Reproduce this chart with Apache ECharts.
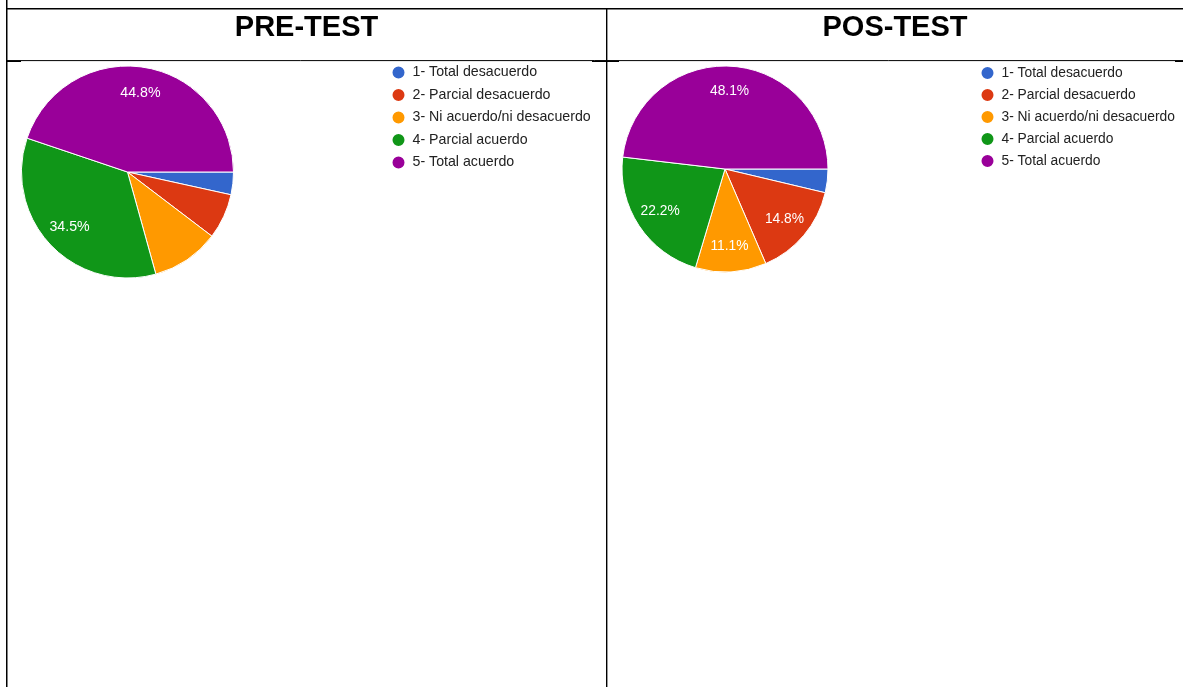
<!DOCTYPE html>
<html>
<head>
<meta charset="utf-8">
<title>PRE-TEST / POS-TEST</title>
<script src="https://cdn.jsdelivr.net/npm/echarts@6/dist/echarts.min.js"></script>
<style>
  html, body { margin: 0; padding: 0; background: #ffffff; }
  #chart { width: 1183px; height: 687px; }
</style>
</head>
<body>
<div id="chart"></div>
<script>
// Survey answer categories (Likert scale)
const categories = [
  '1- Total desacuerdo',
  '2- Parcial desacuerdo',
  '3- Ni acuerdo/ni desacuerdo',
  '4- Parcial acuerdo',
  '5- Total acuerdo'
];
// Number of answers per category
const preTestCounts = [1, 2, 3, 10, 13];
const posTestCounts = [1, 4, 3, 6, 13];
// Panel headings
const panelTitles = ['PRE-TEST', 'POS-TEST'];

const sliceColors = ['#3366cc', '#dc3912', '#ff9900', '#109618', '#990099'];
const FONT = 'Arial, "Liberation Sans", sans-serif';
// Slices below this share get no inner label
const LABEL_MIN_PERCENT = 11;

const panels = [
  { counts: preTestCounts, center: [127.5, 172], radius: 106, font: 14.2,
    legendLeft: 390.5, legendTop: 64.5, legendGap: 6.5, titleX: 306.5 },
  { counts: posTestCounts, center: [725, 169], radius: 103, font: 13.8,
    legendLeft: 979.5, legendTop: 65, legendGap: 6, titleX: 895 }
];

const chart = echarts.init(document.getElementById('chart'), null, { renderer: 'canvas' });

function sliceData(p) {
  return categories.map(function (name, i) {
    return { name: name, value: p.counts[i], itemStyle: { color: sliceColors[i] } };
  });
}

// Filled pie, no labels
function pieSeries(p, idx) {
  return {
    type: 'pie',
    name: panelTitles[idx],
    center: p.center,
    radius: [0, p.radius],
    startAngle: 0,
    clockwise: true,
    silent: true,
    animation: false,
    itemStyle: { borderColor: '#ffffff', borderWidth: 1 },
    emphasis: { disabled: true },
    label: { show: false },
    labelLine: { show: false },
    data: sliceData(p)
  };
}

// Transparent ring over the pie that carries the percentage labels,
// so 'inside' labels sit about three quarters of the way out
function labelRingSeries(p, idx) {
  return {
    type: 'pie',
    name: panelTitles[idx] + ' %',
    center: p.center,
    radius: [p.radius * 0.45, p.radius],
    startAngle: 0,
    clockwise: true,
    silent: true,
    animation: false,
    avoidLabelOverlap: false,
    itemStyle: { color: 'rgba(0,0,0,0)', borderWidth: 0 },
    emphasis: { disabled: true },
    label: {
      show: true,
      position: 'inside',
      color: '#ffffff',
      fontFamily: FONT,
      fontSize: p.font,
      formatter: function (prm) {
        return prm.percent >= LABEL_MIN_PERCENT ? prm.percent.toFixed(1) + '%' : '';
      }
    },
    labelLine: { show: false },
    data: p.counts.map(function (v, i) {
      return { name: categories[i], value: v };
    })
  };
}

function legendFor(p, idx) {
  return {
    orient: 'vertical',
    left: p.legendLeft,
    top: p.legendTop,
    padding: 0,
    icon: 'circle',
    itemWidth: 14,
    itemHeight: 14,
    itemGap: p.legendGap,
    selectedMode: false,
    data: categories.map(function (name, i) {
      return { name: name, itemStyle: { color: sliceColors[i] } };
    }),
    textStyle: {
      color: '#222222',
      fontFamily: FONT,
      fontSize: p.font,
      padding: [0, 0, 0, 2]
    }
  };
}

// Table frame around the two panels
const black = '#000000';
function hLine(x1, x2, y, w) {
  return { type: 'line', silent: true, shape: { x1: x1, y1: y, x2: x2, y2: y },
           style: { stroke: black, lineWidth: w } };
}
function vLine(x, y1, y2, w) {
  return { type: 'line', silent: true, shape: { x1: x, y1: y1, x2: x, y2: y2 },
           style: { stroke: black, lineWidth: w } };
}

const frame = [
  vLine(6.75, 0, 687, 1.5),
  hLine(6, 1183, 8.8, 1.5),
  vLine(606.7, 8, 687, 1.4),
  hLine(6, 1183, 60.6, 1),
  hLine(7, 21, 61.3, 1.4),
  hLine(592, 619, 61.3, 1.4),
  hLine(1175, 1183, 61.3, 1.4)
];

const headings = panels.map(function (p, i) {
  return {
    type: 'text',
    silent: true,
    x: p.titleX,
    y: 27.5,
    style: {
      text: panelTitles[i],
      fill: '#000000',
      font: 'bold 29px ' + FONT,
      align: 'center',
      verticalAlign: 'middle'
    }
  };
});

chart.setOption({
  animation: false,
  backgroundColor: '#ffffff',
  graphic: frame.concat(headings),
  legend: panels.map(legendFor),
  series: panels.map(pieSeries).concat(panels.map(labelRingSeries))
});
</script>
</body>
</html>
